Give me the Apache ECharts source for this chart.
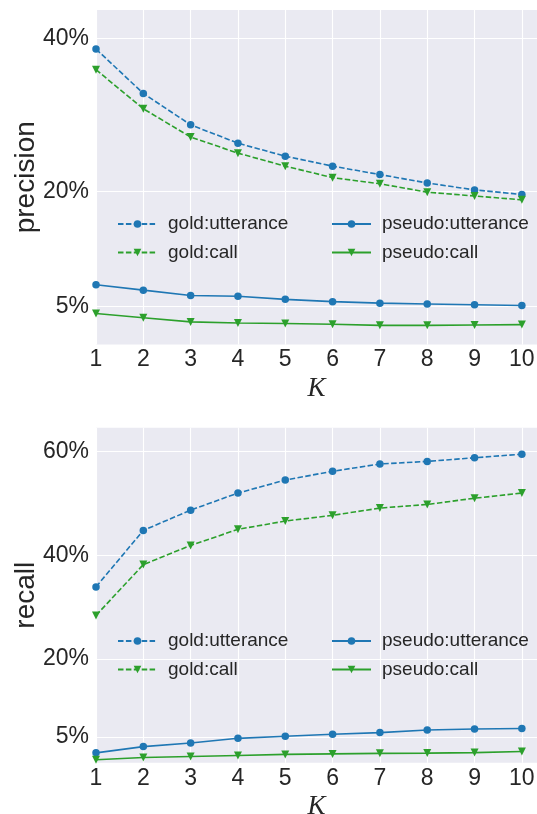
<!DOCTYPE html>
<html>
<head>
<meta charset="utf-8">
<script src="https://cdn.jsdelivr.net/npm/echarts@6/dist/echarts.min.js"></script>
<style>
html,body{margin:0;padding:0;background:#fff;}
#c{width:537px;height:814px;}
</style>
</head>
<body>
<div id="c"></div>
<script>
// ---- data ----
const K = [1, 2, 3, 4, 5, 6, 7, 8, 9, 10];
const seriesNames = ['gold:utterance', 'gold:call', 'pseudo:utterance', 'pseudo:call'];
// precision (%)
const precGoldUtt   = [38.6, 32.8, 28.7, 26.3, 24.6, 23.3, 22.2, 21.1, 20.2, 19.6];
const precGoldCall  = [35.9, 30.8, 27.1, 25.0, 23.3, 21.8, 21.0, 19.9, 19.4, 18.9];
const precPseudoUtt = [7.8, 7.1, 6.4, 6.3, 5.9, 5.6, 5.4, 5.3, 5.2, 5.1];
const precPseudoCall= [4.05, 3.5, 2.95, 2.8, 2.75, 2.65, 2.5, 2.5, 2.55, 2.6];
// recall (%)
const recGoldUtt    = [33.9, 44.8, 48.7, 52.0, 54.5, 56.2, 57.6, 58.1, 58.8, 59.5];
const recGoldCall   = [28.4, 38.2, 41.9, 45.0, 46.6, 47.7, 49.1, 49.8, 51.0, 52.0];
const recPseudoUtt  = [1.9, 3.1, 3.8, 4.7, 5.1, 5.5, 5.8, 6.3, 6.5, 6.6];
const recPseudoCall = [0.56, 1.0, 1.2, 1.4, 1.6, 1.7, 1.8, 1.85, 1.95, 2.15];
// tick labels
const precTicks = [5, 20, 40];
const recTicks  = [5, 20, 40, 60];

// ---- styles ----
const BLUE = '#1f77b4', GREEN = '#2ca02c', TXT = '#262626', BG = '#EAEAF2';
const FONT = 'Liberation Sans, Arial, sans-serif';
const styleFor = {
  'gold:utterance':   {color: BLUE,  dash: [5.5, 2.4], symbol: 'circle', rot: 0},
  'gold:call':        {color: GREEN, dash: [5.5, 2.4], symbol: 'triangle', rot: 180},
  'pseudo:utterance': {color: BLUE,  dash: 'solid', symbol: 'circle', rot: 0},
  'pseudo:call':      {color: GREEN, dash: 'solid', symbol: 'triangle', rot: 180}
};

function mkSeries(name, vals, idx) {
  const s = styleFor[name];
  return {
    name: name, type: 'line', xAxisIndex: idx, yAxisIndex: idx,
    data: K.map((k, i) => [k, vals[i]]),
    symbol: s.symbol, symbolRotate: s.rot,
    symbolSize: s.symbol === 'circle' ? 7.5 : 8,
    showSymbol: true, animation: false,
    lineStyle: {color: s.color, width: 1.6, type: s.dash},
    itemStyle: {color: s.color},
    emphasis: {disabled: true}
  };
}

const grids = [
  {left: 96, right: 0, top: 10, height: 334.5, backgroundColor: BG, show: true, borderWidth: 0,
   containLabel: false, outerBoundsMode: 'none'},
  {left: 96, right: 0, top: 427.7, height: 335, backgroundColor: BG, show: true, borderWidth: 0,
   containLabel: false, outerBoundsMode: 'none'}
];

function mkX(idx) {
  return {
    type: 'value', gridIndex: idx, min: 1, max: 10.32, interval: 1,
    name: 'K', nameLocation: 'middle', nameGap: 31, nameMoveOverlap: false,
    nameTextStyle: {fontFamily: 'Liberation Serif, DejaVu Serif, serif', fontStyle: 'italic', fontSize: 27, color: TXT},
    axisLine: {show: false}, axisTick: {show: false},
    axisLabel: {fontFamily: FONT, fontSize: 23, color: TXT, margin: 4, showMaxLabel: false,
      formatter: v => (Number.isInteger(v) ? String(v) : '')},
    splitLine: {show: true, lineStyle: {color: '#ffffff', width: 1.1}}
  };
}
function mkY(idx, max, ticks, name) {
  return {
    type: 'value', gridIndex: idx, min: 0, max: max,
    name: name, nameLocation: 'middle', nameGap: 56, nameMoveOverlap: false,
    nameTextStyle: {fontFamily: FONT, fontSize: 28, color: TXT},
    axisLine: {show: false},
    axisTick: {show: false, customValues: ticks},
    axisLabel: {customValues: ticks, fontFamily: FONT, fontSize: 23, color: TXT, margin: 7,
      formatter: v => v + '%'},
    splitLine: {show: true, lineStyle: {color: '#ffffff', width: 1.1}}
  };
}

function mkLegend(names, left, top) {
  return {
    data: names, orient: 'vertical', left: left, top: top,
    itemWidth: 39, itemHeight: 9.5, itemGap: 8.5,
    selectedMode: false,
    textStyle: {fontFamily: FONT, fontSize: 19, color: TXT, lineHeight: 20, padding: [0, 0, 0, 6]}
  };
}

const option = {
  animation: false,
  backgroundColor: '#ffffff',
  grid: grids,
  xAxis: [mkX(0), mkX(1)],
  yAxis: [mkY(0, 43.7, precTicks, 'precision'), mkY(1, 64.6, recTicks, 'recall')],
  legend: [
    mkLegend(['gold:utterance', 'gold:call'], 112, 209),
    mkLegend(['pseudo:utterance', 'pseudo:call'], 326, 209),
    mkLegend(['gold:utterance', 'gold:call'], 112, 626),
    mkLegend(['pseudo:utterance', 'pseudo:call'], 326, 626)
  ],
  series: [
    mkSeries('gold:utterance', precGoldUtt, 0),
    mkSeries('gold:call', precGoldCall, 0),
    mkSeries('pseudo:utterance', precPseudoUtt, 0),
    mkSeries('pseudo:call', precPseudoCall, 0),
    mkSeries('gold:utterance', recGoldUtt, 1),
    mkSeries('gold:call', recGoldCall, 1),
    mkSeries('pseudo:utterance', recPseudoUtt, 1),
    mkSeries('pseudo:call', recPseudoCall, 1)
  ]
};
const chart = echarts.init(document.getElementById('c'), null, {renderer: 'canvas'});
chart.setOption(option);
</script>
</body>
</html>
